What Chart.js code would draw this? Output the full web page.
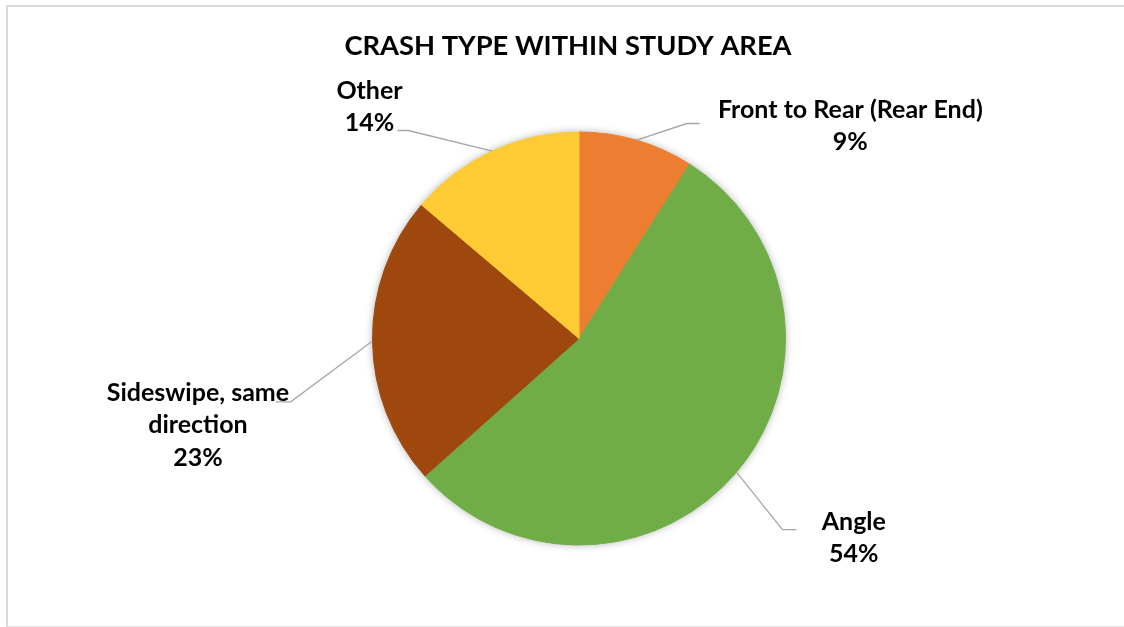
<!DOCTYPE html>
<html>
<head>
<meta charset="utf-8">
<script src="https://cdn.jsdelivr.net/npm/chart.js@4.4.1/dist/chart.umd.min.js"></script>
<style>
  html, body { margin: 0; padding: 0; background: #ffffff; }
  #wrap { position: relative; width: 1124px; height: 627px; overflow: hidden; }
  #frame { position: absolute; left: 6px; top: 5px; width: 1140px; height: 619px;
           border-left: 2px solid #d9d9d9; border-top: 2px solid #d9d9d9; border-bottom: 1px solid #e6e6e6; }
  canvas { position: absolute; left: 0; top: 0; }
</style>
</head>
<body>
<div id="wrap">
  <div id="frame"></div>
  <canvas id="c" width="1124" height="627"></canvas>
</div>
<script>
// ---- data ----
const chartTitle = 'CRASH TYPE WITHIN STUDY AREA';
const categories = ['Front to Rear (Rear End)', 'Angle', 'Sideswipe, same direction', 'Other'];
const categoryLines = [['Front to Rear (Rear End)'], ['Angle'], ['Sideswipe, same', 'direction'], ['Other']];
const shares = [9.0, 54.4, 22.8, 13.8];
const sliceColors = ['#ED7D31', '#70AD47', '#9E480E', '#FFCB34'];

// ---- label layout (offsets from pie centre, in pixels at radius 207) ----
const labelLayout = [
  { text: [272, -221.5],  elbow: [108, -215.5],  end: [121, -215.5] },
  { text: [275.5, 191.5], elbow: [204, 191.5],   end: [218, 191.5] },
  { text: [-382, 62.5],   elbow: [-289, 63.5],   end: [-304, 63.5] },
  { text: [-210, -240.5], elbow: [-171, -208.5], end: [-182, -208.5] }
];
const LABEL_FONT = 'bold 25px Lato';
const LINE_H = 32.5;

const total = shares.reduce((a, b) => a + b, 0);
const pctText = shares.map(v => Math.round(v / total * 100) + '%');

const shadowPlugin = {
  id: 'pieShadow',
  beforeDatasetsDraw(chart) {
    const arc = chart.getDatasetMeta(0).data[0];
    if (!arc) return;
    const ctx = chart.ctx;
    ctx.save();
    ctx.shadowColor = 'rgba(0,0,0,0.35)';
    ctx.shadowBlur = 8;
    ctx.fillStyle = '#ffffff';
    ctx.beginPath();
    ctx.arc(arc.x, arc.y, arc.outerRadius - 0.5, 0, Math.PI * 2);
    ctx.fill();
    ctx.restore();
  }
};

const labelPlugin = {
  id: 'pieLabels',
  afterDatasetsDraw(chart) {
    const ctx = chart.ctx;
    const arcs = chart.getDatasetMeta(0).data;
    arcs.forEach((arc, i) => {
      const r = arc.outerRadius;
      const s = r / 207;
      const lay = labelLayout[i];
      const mid = (arc.startAngle + arc.endAngle) / 2;
      const ex = arc.x + Math.cos(mid) * r;
      const ey = arc.y + Math.sin(mid) * r;
      ctx.save();
      ctx.strokeStyle = '#A6A6A6';
      ctx.lineWidth = 1.3;
      ctx.beginPath();
      ctx.moveTo(ex, ey);
      ctx.lineTo(arc.x + lay.elbow[0] * s, arc.y + lay.elbow[1] * s);
      ctx.lineTo(arc.x + lay.end[0] * s, arc.y + lay.end[1] * s);
      ctx.stroke();
      ctx.fillStyle = '#000000';
      ctx.font = LABEL_FONT;
      ctx.textAlign = 'center';
      ctx.textBaseline = 'alphabetic';
      const lines = categoryLines[i].concat([pctText[i]]);
      const tx = arc.x + lay.text[0] * s;
      const ty = arc.y + lay.text[1] * s;
      lines.forEach((ln, k) => ctx.fillText(ln, tx, ty + k * LINE_H));
      ctx.restore();
    });
    // title
    ctx.save();
    ctx.fillStyle = '#000000';
    ctx.font = 'bold 27.3px Lato';
    ctx.textAlign = 'center';
    ctx.textBaseline = 'alphabetic';
    ctx.fillText(chartTitle, 568, 55);
    ctx.restore();
  }
};

new Chart(document.getElementById('c'), {
  type: 'pie',
  data: {
    labels: categories,
    datasets: [{
      data: shares,
      backgroundColor: sliceColors,
      borderColor: sliceColors,
      borderWidth: 1
    }]
  },
  options: {
    responsive: false,
    animation: false,
    layout: { padding: { top: 131, bottom: 81, left: 372, right: 338 } },
    plugins: {
      legend: { display: false },
      tooltip: { enabled: false },
      title: { display: false }
    }
  },
  plugins: [shadowPlugin, labelPlugin]
});
</script>
</body>
</html>
